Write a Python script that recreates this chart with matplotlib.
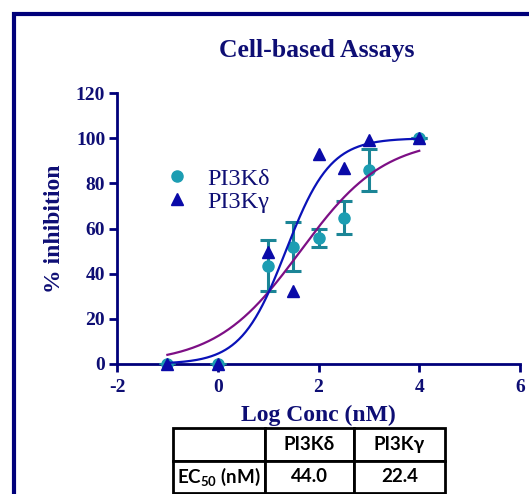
import numpy as np
import matplotlib
matplotlib.use('Agg')
import matplotlib.pyplot as plt
import matplotlib.patches as patches

# data
logc = [-1, 0, 1, 1.5, 2, 2.5, 3, 4]
delta_y = [0, 0, 43.5, 52, 56, 64.7, 85.8, 100]
delta_lo = [0, 0, 32.5, 41.2, 52, 57.4, 76.7, 100]
delta_hi = [0, 0, 55, 62.7, 60, 72.3, 95, 100]
gamma_y = [0, 0, 49.7, 32.4, 93.2, 86.6, 99.4, 100]

# fitted curves (bottom 0, top 100)
delta_logec50, delta_hill = 1.64, 0.52
gamma_logec50, gamma_hill = 1.35, 0.98

table_cols = ['', 'PI3K\u03b4', 'PI3K\u03b3']
table_row = ['EC$_{50}$ (nM)', '44.0', '22.4']

navy = '#0e0e74'
axcol = '#00007a'
teal = '#1c9db2'
teal_dark = '#1b8596'
blue_pt = '#0a0aa8'
blue_ln = '#0a12b8'
purple = '#7d0f85'

plt.rcParams['font.family'] = ['Liberation Serif', 'DejaVu Serif']
plt.rcParams['mathtext.default'] = 'regular'
plt.rcParams['axes.unicode_minus'] = False

fig = plt.figure(figsize=(5.29, 4.94), dpi=100)
W, H = 529, 494

# outer frame
fig.add_artist(patches.Rectangle((14 / W, -0.05), 1.2, 1 - 14 / H + 0.05, transform=fig.transFigure,
                                 fill=False, edgecolor=axcol, linewidth=3))

ax = fig.add_axes([117 / W, 1 - 364 / H, (520 - 117) / W, (364 - 93) / H])
ax.set_xlim(-2, 6)
ax.set_ylim(0, 120)
ax.patch.set_alpha(0)
for s in ['top', 'right']:
    ax.spines[s].set_visible(False)
for s in ['left', 'bottom']:
    ax.spines[s].set_color(axcol)
    ax.spines[s].set_linewidth(2)
    ax.spines[s].set_zorder(1)
ax.set_xticks(np.arange(-2, 7, 2))
ax.set_yticks(np.arange(0, 121, 20))
ax.tick_params(colors=axcol, width=2, length=5.5, labelsize=14, labelcolor=navy)
ax.tick_params(axis='x', pad=5)
ax.tick_params(axis='y', pad=3)
for lb in ax.get_xticklabels() + ax.get_yticklabels():
    lb.set_fontweight('bold')

xs = np.linspace(-1, 4, 300)
ax.plot(xs, 100 / (1 + 10 ** (delta_hill * (delta_logec50 - xs))), color=purple, lw=1.6, zorder=4)
ax.plot(xs, 100 / (1 + 10 ** (gamma_hill * (gamma_logec50 - xs))), color=blue_ln, lw=1.6, zorder=4)

yerr = [np.array(delta_y) - np.array(delta_lo), np.array(delta_hi) - np.array(delta_y)]
ax.errorbar(logc, delta_y, yerr=yerr, fmt='none', ecolor=teal_dark, elinewidth=2.2,
            capsize=6, capthick=2.2, zorder=2)
ax.plot(logc, delta_y, 'o', color=teal, ms=8, clip_on=False, zorder=3, label='PI3K\u03b4')
ax.plot(logc, gamma_y, '^', color=blue_pt, ms=8.5, clip_on=False, zorder=5, label='PI3K\u03b3')

leg = ax.legend(loc='upper left', bbox_to_anchor=(0.095, 0.76), frameon=False, fontsize=17.5,
                handletextpad=0.75, labelspacing=0.05, handlelength=1.0, borderaxespad=0)
for t in leg.get_texts():
    t.set_color(navy)

ax.set_xlabel('Log Conc (nM)', fontsize=17, fontweight='bold', color=navy, labelpad=7)
ax.set_ylabel('% inhibition', fontsize=17, fontweight='bold', color=navy, labelpad=8)
fig.text(317 / W, 1 - 50 / H, 'Cell-based Assays', ha='center', va='center',
         fontsize=18.5, fontweight='bold', color=navy)

# EC50 table
tax = fig.add_axes([173 / W, 1 - 493 / H, (445 - 173) / W, (493 - 428) / H])
tax.axis('off')
tb = tax.table(cellText=[table_row], colLabels=table_cols, bbox=[0, 0, 1, 1],
               cellLoc='center', colWidths=[92, 89, 91])
tb.auto_set_font_size(False)
for (r, c), cell in tb.get_celld().items():
    cell.set_linewidth(2)
    cell.set_edgecolor('black')
    cell.get_text().set_fontsize(13.5)
    cell.get_text().set_fontweight('bold')
    cell.get_text().set_fontfamily(['Lato', 'DejaVu Sans'])

fig.savefig('out.png', dpi=100)
